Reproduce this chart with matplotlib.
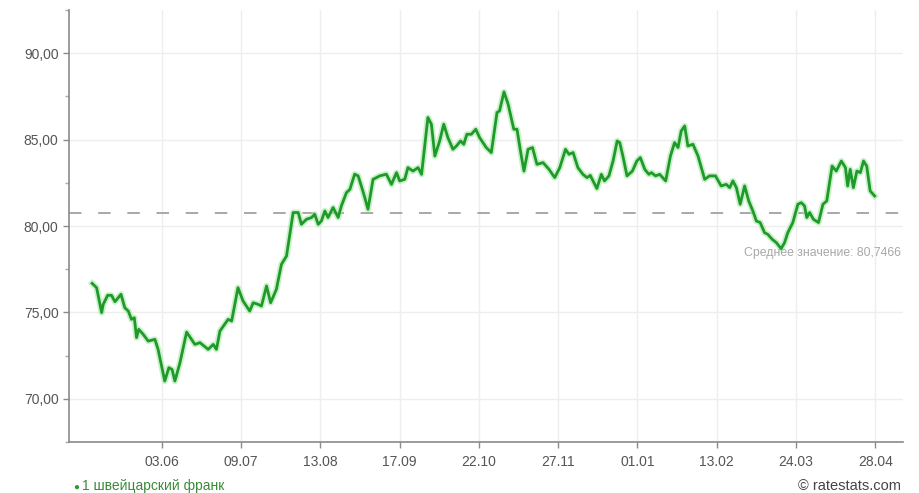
import matplotlib
matplotlib.use("Agg")
import matplotlib.pyplot as plt
from matplotlib.ticker import FuncFormatter, MultipleLocator

# trading-day index and CHF/RUB rate
day_idx = [0.4, 1.8, 3.4, 3.9, 5.3, 6.5, 7.6, 9.5, 10.7, 11.8, 12.8, 13.7, 14.4, 15.1, 16.5, 18.1,
           20.2, 21.2, 23.3, 24.6, 25.6, 26.5, 28.1, 30.2, 32.8, 34.4, 37.0, 38.6, 39.6, 40.7, 43.3,
           44.4, 46.4, 48.0, 50.1, 51.2, 52.7, 53.8, 55.4, 56.7, 58.5, 60.1, 61.7, 63.8, 65.4, 66.4,
           68.0, 69.6, 70.6, 71.7, 72.7, 73.8, 74.8, 76.4, 78.0, 79.0, 80.6, 81.7, 83.2, 84.3, 85.3,
           86.4, 87.4, 89.0, 91.1, 93.2, 94.8, 96.4, 97.4, 99.0, 100.0, 101.6, 103.2, 104.3, 106.3,
           107.4, 108.5, 110.0, 111.3, 112.6, 114.2, 115.3, 116.6, 117.6, 118.6, 120.0, 121.4, 122.6,
           124.7, 126.3, 128.1, 128.9, 130.3, 131.6, 133.4, 134.4, 135.5, 136.6, 137.9, 139.3, 140.7,
           142.6, 144.5, 146.3, 147.9, 149.7, 150.8, 152.1, 153.6, 155.2, 156.5, 157.5, 158.4, 159.6,
           161.0, 162.0, 163.4, 164.7, 166.0, 166.8, 167.8, 169.1, 170.8, 172.2, 173.3, 174.7, 176.0,
           176.8, 178.1, 179.4, 181.3, 182.8, 184.1, 185.2, 186.2, 187.3, 188.3, 189.9, 191.5, 193.6,
           195.1, 197.0, 198.8, 200.4, 201.5, 202.5, 203.6, 204.8, 206.2, 207.5, 208.8, 209.9, 211.1,
           212.5, 213.5, 214.9, 216.2, 217.7, 218.8, 219.8, 221.4, 223.0, 224.1, 225.1, 225.8, 226.7,
           227.9, 229.5, 230.9, 232.1, 233.8, 235.1, 236.7, 238.0, 238.7, 239.5, 240.5, 241.6, 242.7,
           243.7, 244.7, 245.8, 247.2]
rate = [76.68, 76.43, 74.99, 75.47, 75.99, 75.99, 75.62, 76.05, 75.27, 75.08, 74.60, 74.69, 73.54,
        74.02, 73.73, 73.34, 73.44, 72.86, 71.03, 71.80, 71.70, 71.03, 72.09, 73.86, 73.15, 73.25,
        72.86, 73.15, 72.86, 73.92, 74.60, 74.50, 76.43, 75.66, 75.08, 75.56, 75.47, 75.37, 76.53,
        75.56, 76.33, 77.78, 78.26, 80.78, 80.78, 80.10, 80.39, 80.49, 80.68, 80.10, 80.29, 80.87,
        80.49, 81.07, 80.49, 81.16, 81.93, 82.12, 83.00, 82.90, 82.32, 81.64, 80.97, 82.70, 82.90,
        83.00, 82.41, 83.09, 82.61, 82.70, 83.38, 83.18, 83.38, 82.99, 86.28, 85.89, 84.05, 84.92,
        85.89, 85.12, 84.44, 84.63, 84.92, 84.73, 85.31, 85.31, 85.60, 85.12, 84.54, 84.25, 86.57,
        86.66, 87.76, 87.05, 85.60, 85.60, 84.34, 83.18, 84.44, 84.54, 83.57, 83.67, 83.28, 82.80,
        83.38, 84.44, 84.15, 84.25, 83.38, 82.99, 82.80, 82.93, 82.61, 82.17, 82.99, 82.61, 82.90,
        83.76, 84.92, 84.83, 84.05, 82.90, 83.18, 83.76, 83.96, 83.28, 82.99, 83.09, 82.90, 82.99,
        82.61, 84.05, 84.83, 84.54, 85.50, 85.79, 84.63, 84.73, 84.05, 82.70, 82.90, 82.90, 82.32,
        82.41, 82.22, 82.61, 82.22, 81.26, 82.32, 81.45, 80.87, 80.29, 80.20, 79.61, 79.52, 79.23,
        79.04, 78.69, 79.04, 79.61, 80.20, 81.26, 81.35, 81.16, 80.49, 80.78, 80.39, 80.20, 81.26,
        81.45, 83.47, 83.18, 83.76, 83.38, 82.32, 83.28, 82.22, 83.18, 83.09, 83.76, 83.47, 82.03,
        81.74]

tick_pos = [22.4, 47.4, 72.4, 97.4, 122.4, 147.4, 172.4, 197.4, 222.4, 247.4]
tick_labels = ["03.06", "09.07", "13.08", "17.09", "22.10", "27.11", "01.01", "13.02", "24.03", "28.04"]
y_ticks = [70, 75, 80, 85, 90]
mean_value = 80.7466
series_name = "1 швейцарский франк"
mean_label = "Среднее значение: 80,7466"
credit = "© ratestats.com"

plt.rcParams['font.family'] = ['Liberation Sans', 'DejaVu Sans']

fig = plt.figure(figsize=(9.2, 4.93), dpi=100)
ax = fig.add_axes([0.075, 0.1034, 0.906, 0.8763])

ax.set_xlim(-6.9, 256)
ax.set_ylim(67.5, 92.5)

for s in ['top', 'right']:
    ax.spines[s].set_visible(False)
for s in ['left', 'bottom']:
    ax.spines[s].set_color('#8a8a8a')
    ax.spines[s].set_linewidth(1.2)

ax.set_xticks(tick_pos)
ax.set_xticklabels(tick_labels)
ax.set_yticks(y_ticks)
ax.yaxis.set_minor_locator(MultipleLocator(2.5))
ax.yaxis.set_major_formatter(FuncFormatter(lambda v, p: f"{v:.2f}".replace('.', ',')))
ax.tick_params(axis='both', colors='#8a8a8a', labelcolor='#555555', labelsize=10, length=4, width=1)
ax.tick_params(axis='y', which='minor', colors='#aaaaaa', length=3, width=1)
ax.tick_params(axis='x', pad=5)

ax.grid(True, which='major', color='#eeeeee', linewidth=1)
ax.set_axisbelow(True)

ax.axhline(mean_value, color='#9a9a9a', linewidth=1.2, dashes=(7.5, 10))

ax.plot(day_idx, rate, color='#a6e8a6', linewidth=4.5, alpha=0.6, solid_joinstyle='round', zorder=3)
ax.plot(day_idx, rate, color='#1f9a2a', linewidth=2.0, solid_joinstyle='round', zorder=4)

ax.text(0.9975, 0.4375, mean_label, transform=ax.transAxes, ha='right', va='center',
        fontsize=8.8, color='#a8a8a8')

fig.text(0.079, 0.003, "\u25CF", color='#2a9a2a', fontsize=7, ha='left', va='bottom')
fig.text(0.089, 0.0, series_name, color='#3a8a3a', fontsize=10, ha='left', va='bottom')
fig.text(0.979, 0.0, credit, color='#444444', fontsize=10.5, ha='right', va='bottom')

fig.savefig("out.png", dpi=100)
